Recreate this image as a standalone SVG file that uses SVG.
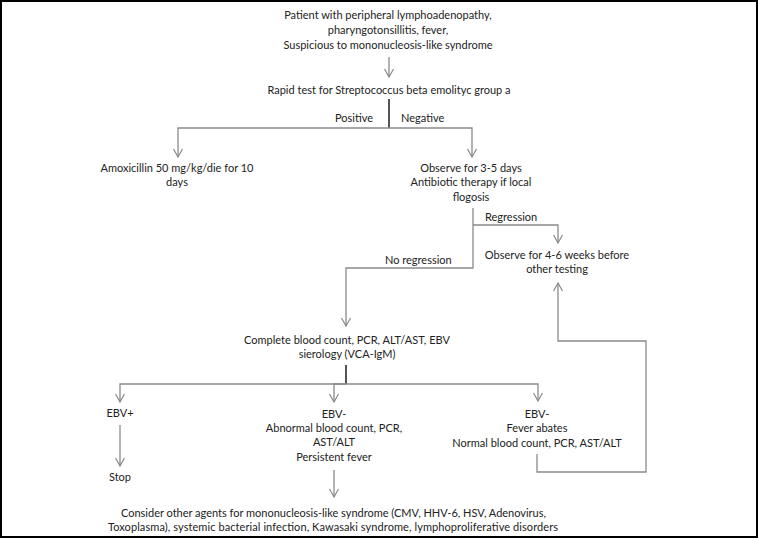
<svg xmlns="http://www.w3.org/2000/svg" width="758" height="538" viewBox="0 0 758 538">
<style>
text{font-family:"Lato","Liberation Sans",sans-serif;font-size:11px;fill:#222;text-anchor:middle}
.s{text-anchor:start}
.e{text-anchor:end}
.c{fill:none;stroke:#8a8a8a;stroke-width:1.3}
.a{marker-end:url(#ah)}
.k{fill:none;stroke:#555;stroke-width:2}
</style>
<defs>
<marker id="ah" markerWidth="12" markerHeight="12" refX="9" refY="5" orient="auto" markerUnits="userSpaceOnUse">
<path d="M1,0.5 L9,5 L1,9.5" fill="none" stroke="#8a8a8a" stroke-width="1.2"/>
</marker>
</defs>
<rect x="1" y="1" width="756" height="536" fill="#fff" stroke="#000" stroke-width="2"/>
<g id="connectors">
<path class="c a" d="M389,57 V77"/>
<path class="k" d="M389,99 V128"/>
<path class="c a" d="M389,128 H178 V157"/>
<path class="c a" d="M389,128 H472 V157"/>
<path class="c a" d="M473,208 V268 H346 V326"/>
<path class="c a" d="M473,225 H558 V243"/>
<path class="k" d="M346,365 V384"/>
<path class="c a" d="M346,384 H120 V402"/>
<path class="c a" d="M346,384 H334 V402"/>
<path class="c a" d="M346,384 H538 V401"/>
<path class="c a" d="M120,425 V466"/>
<path class="c a" d="M334,470 V497"/>
<path class="c a" d="M537,454 V472 H646 V341 H558 V283"/>
</g>
<g id="n-start">
<text x="388" y="19">Patient with peripheral lymphoadenopathy,</text>
<text x="388" y="34">pharyngotonsillitis, fever,</text>
<text x="388" y="49">Suspicious to mononucleosis-like syndrome</text>
</g>
<g id="n-rapid"><text x="389" y="94">Rapid test for Streptococcus beta emolityc group a</text></g>
<g id="l-pos"><text class="e" x="373" y="122">Positive</text></g>
<g id="l-neg"><text class="s" x="401" y="122">Negative</text></g>
<g id="n-amox">
<text x="177" y="172">Amoxicillin 50 mg/kg/die for 10</text>
<text x="177" y="186">days</text>
</g>
<g id="n-observe35">
<text x="471" y="172">Observe for 3-5 days</text>
<text x="471" y="186">Antibiotic therapy if local</text>
<text x="471" y="201">flogosis</text>
</g>
<g id="l-regr"><text class="s" x="485" y="221">Regression</text></g>
<g id="l-noregr"><text class="s" x="385" y="264">No regression</text></g>
<g id="n-observe46">
<text x="557" y="259">Observe for 4-6 weeks before</text>
<text x="557" y="273">other testing</text>
</g>
<g id="n-cbc">
<text x="347" y="344">Complete blood count, PCR, ALT/AST, EBV</text>
<text x="347" y="358">sierology (VCA-IgM)</text>
</g>
<g id="n-ebvpos"><text x="120" y="417">EBV+</text></g>
<g id="n-stop"><text x="120" y="481">Stop</text></g>
<g id="n-ebvneg1">
<text x="334" y="418">EBV-</text>
<text x="334" y="432">Abnormal blood count, PCR,</text>
<text x="334" y="446">AST/ALT</text>
<text x="334" y="461">Persistent fever</text>
</g>
<g id="n-ebvneg2">
<text x="537" y="418">EBV-</text>
<text x="537" y="432">Fever abates</text>
<text x="537" y="447">Normal blood count, PCR, AST/ALT</text>
</g>
<g id="n-consider">
<text x="333.5" y="517" textLength="425" lengthAdjust="spacing">Consider other agents for mononucleosis-like syndrome (CMV, HHV-6, HSV, Adenovirus,</text>
<text x="333" y="531" textLength="450" lengthAdjust="spacing">Toxoplasma), systemic bacterial infection, Kawasaki syndrome, lymphoproliferative disorders</text>
</g>
</svg>
